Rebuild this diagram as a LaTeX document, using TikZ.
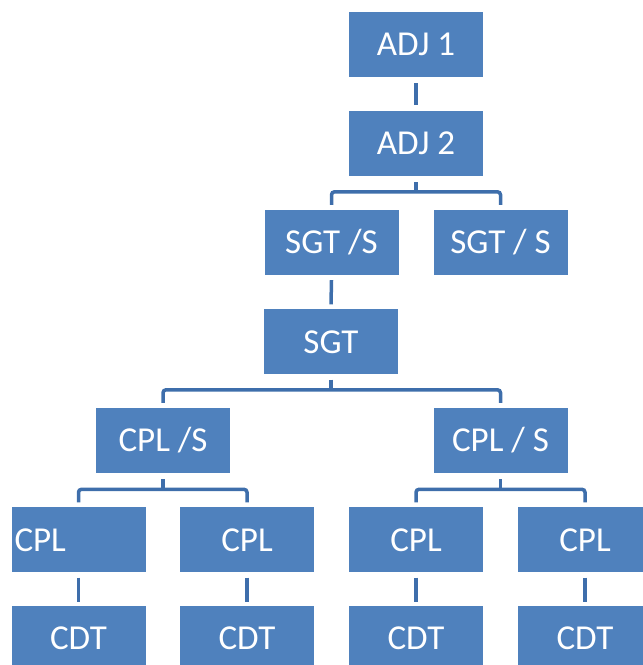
\documentclass[tikz,border=0pt]{standalone}
\usepackage{fontspec}
\setmainfont{Carlito}
\usepackage{xcolor}
\definecolor{boxblue}{HTML}{4F81BD}
\definecolor{linkblue}{HTML}{3E6EAB}
\tikzset{
  box/.style={fill=boxblue, text=white, minimum width=134pt, minimum height=65pt,
    inner sep=0pt, text height=22.5pt, text depth=0pt, font=\fontsize{35}{40}\selectfont},
  link/.style={linkblue, line width=3.5pt, rounded corners=3pt}
}
\begin{document}
\begin{tikzpicture}[x=1pt,y=1pt]
        \useasboundingbox (0,0) rectangle (643,665);
        \clip (0,0) rectangle (643,665);
        \node[box] (adjA) at (416,620.5) {ADJ 1};
        \node[box] (adjB) at (416,521.5) {ADJ 2};
        \node[box] (sgtsA) at (331.5,422.5) {SGT /S};
        \node[box] (sgtsB) at (500.5,422.5) {SGT / S};
        \node[box] (sgt) at (331,323) {SGT};
        \node[box] (cplsA) at (163,224.5) {CPL /S};
        \node[box] (cplsB) at (500.5,224.5) {CPL / S};
        \node[box, text width=128pt, inner xsep=3pt, align=left] (cplA) at (78.5,125) {CPL};
        \node[box] (cplB) at (247,125) {CPL};
        \node[box] (cplC) at (416,125) {CPL};
        \node[box] (cplD) at (585,125) {CPL};
        \node[box] (cdtA) at (78.5,26.5) {CDT};
        \node[box] (cdtB) at (247,26.5) {CDT};
        \node[box] (cdtC) at (416,26.5) {CDT};
        \node[box] (cdtD) at (585,26.5) {CDT};
        % top chain
        \draw[link] ([yshift=-6pt]adjA.south) -- ([yshift=6pt]adjB.north);
        \draw[link] ([yshift=-6pt]adjB.south) -- ([yshift=18pt]adjB.south |- sgtsA.north);
        \draw[link] ([yshift=5pt]sgtsA.north) |- ([yshift=18pt]sgtsB.north) -- ([yshift=5pt]sgtsB.north);
        \draw[link] ([yshift=-5pt]sgtsA.south) -- ([yshift=5pt]sgt.north);
        % middle fork
        \draw[link] ([yshift=-5pt]sgt.south) -- ([yshift=18pt]sgt.south |- cplsA.north);
        \draw[link] ([yshift=5pt]cplsA.north) |- ([yshift=18pt]cplsB.north) -- ([yshift=5pt]cplsB.north);
        % lower forks
        \draw[link] ([yshift=-6pt]cplsA.south) -- ([yshift=18pt]cplsA.south |- cplA.north);
        \draw[link] ([yshift=5pt]cplA.north) |- ([yshift=18pt]cplB.north) -- ([yshift=5pt]cplB.north);
        \draw[link] ([yshift=-6pt]cplsB.south) -- ([yshift=18pt]cplsB.south |- cplC.north);
        \draw[link] ([yshift=5pt]cplC.north) |- ([yshift=18pt]cplD.north) -- ([yshift=5pt]cplD.north);
        % bottom links
        \draw[link] ([yshift=-5pt]cplA.south) -- ([yshift=4pt]cdtA.north);
        \draw[link] ([yshift=-5pt]cplB.south) -- ([yshift=4pt]cdtB.north);
        \draw[link] ([yshift=-5pt]cplC.south) -- ([yshift=4pt]cdtC.north);
        \draw[link] ([yshift=-5pt]cplD.south) -- ([yshift=4pt]cdtD.north);
    \end{tikzpicture}
\end{document}
